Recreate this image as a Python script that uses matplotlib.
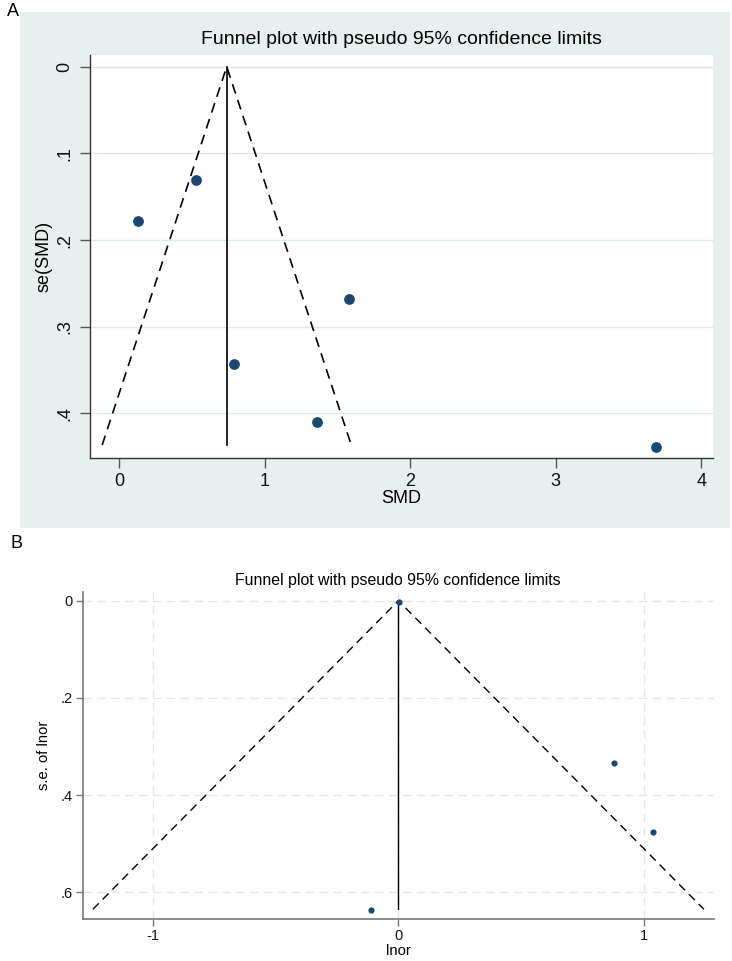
import matplotlib
matplotlib.use("Agg")
import matplotlib.pyplot as plt
from matplotlib.patches import Rectangle
from matplotlib.ticker import FuncFormatter

plt.rcParams['font.family'] = ['Liberation Sans', 'DejaVu Sans']

# panel A: standardised mean differences
smd = [0.13, 0.53, 1.58, 0.79, 1.36, 3.69]
se_smd = [0.178, 0.131, 0.268, 0.343, 0.410, 0.439]
pooled_smd = 0.74
se_max_a = 0.4365
ticks_a_x = [0, 1, 2, 3, 4]
ticks_a_y = [0, 0.1, 0.2, 0.3, 0.4]

# panel B: log odds ratios
lnor = [0.002, 0.88, 1.036, -0.111]
se_lnor = [0.003, 0.334, 0.475, 0.636]
pooled_lnor = 0.0
se_max_b = 0.635
ticks_b_x = [-1, 0, 1]
ticks_b_y = [0, 0.2, 0.4, 0.6]

navy = '#1A476F'
title = 'Funnel plot with pseudo 95% confidence limits'


def stata_fmt(v, pos):
    if abs(v) < 1e-9:
        return '0'
    if float(v).is_integer():
        return f'{int(v)}'
    return f'{v:.1f}'.replace('0.', '.')


W, H = 732, 961
fig = plt.figure(figsize=(W / 100, H / 100), dpi=100)

# grey graph region behind panel A
bg = fig.add_axes([20 / W, 1 - 528 / H, 710 / W, 516 / H], zorder=-5)
bg.add_patch(Rectangle((0, 0), 1, 1, transform=bg.transAxes,
                       facecolor='#E8EFEF', edgecolor='none'))
bg.axis('off')

axA = fig.add_axes([90 / W, 1 - 458 / H, 623 / W, 403 / H])
axA.set_facecolor('white')
for y in ticks_a_y:
    axA.axhline(y, color='#DCE9EC', lw=1, zorder=1)
xa = [pooled_smd - 1.96 * se_max_a, pooled_smd, pooled_smd + 1.96 * se_max_a]
ya = [se_max_a, 0, se_max_a]
axA.plot(xa, ya, color='black', lw=1.2, ls=(0, (6, 4)), zorder=2)
axA.plot([pooled_smd, pooled_smd], [0, se_max_a], color='black', lw=1.2, zorder=2)
axA.scatter(smd, se_smd, s=60, color=navy, zorder=3, linewidths=0)
axA.set_xlim(-0.199, 4.08)
axA.set_ylim(0.4514, -0.0135)
axA.set_xticks(ticks_a_x)
axA.set_yticks(ticks_a_y)
axA.xaxis.set_major_formatter(FuncFormatter(stata_fmt))
axA.yaxis.set_major_formatter(FuncFormatter(stata_fmt))
for lab in axA.get_yticklabels():
    lab.set_rotation(90)
    lab.set_va('center')
axA.tick_params(axis='both', length=7, width=1, color='#555555', labelsize=13,
                pad=4, labelcolor='#111111')
axA.tick_params(axis='y', pad=5)
for s in ['top', 'right']:
    axA.spines[s].set_visible(False)
for s in ['left', 'bottom']:
    axA.spines[s].set_color('#333333')
    axA.spines[s].set_linewidth(1)
axA.set_xlabel('SMD', fontsize=13, labelpad=0)
axA.set_ylabel('se(SMD)', fontsize=13, labelpad=3)
fig.text(401 / W, 1 - 40 / H, title, ha='center', va='center', fontsize=14)
fig.text(7 / W, 1 - 11 / H, 'A', ha='left', va='center', fontsize=13)

axB = fig.add_axes([82.7 / W, 1 - 919 / H, 631.6 / W, 327.3 / H])
xb = [pooled_lnor - 1.96 * se_max_b, pooled_lnor, pooled_lnor + 1.96 * se_max_b]
yb = [se_max_b, 0, se_max_b]
axB.plot(xb, yb, color='black', lw=1, ls=(0, (6, 4)), zorder=2)
axB.plot([pooled_lnor, pooled_lnor], [0, se_max_b], color='black', lw=1, zorder=2)
axB.scatter(lnor, se_lnor, s=20, color=navy, zorder=3, linewidths=0)
axB.set_xlim(-1.286, 1.287)
axB.set_ylim(0.655, -0.0185)
axB.set_xticks(ticks_b_x)
axB.set_yticks(ticks_b_y)
axB.xaxis.set_major_formatter(FuncFormatter(stata_fmt))
axB.yaxis.set_major_formatter(FuncFormatter(stata_fmt))
axB.grid(True, color='#E6E6E6', lw=1, ls=(0, (6, 4)), zorder=0)
axB.set_axisbelow(True)
axB.tick_params(axis='both', length=5, width=1, color='#777777', labelsize=10.5,
                pad=2, labelcolor='#111111')
for s in ['top', 'right']:
    axB.spines[s].set_visible(False)
for s in ['left', 'bottom']:
    axB.spines[s].set_color('#777777')
    axB.spines[s].set_linewidth(1.2)
axB.set_ylabel('s.e. of lnor', fontsize=10.6, labelpad=7)
fig.text(398 / W, 1 - 951 / H, 'lnor', ha='center', va='center', fontsize=10.6)
fig.text(398 / W, 1 - 581 / H, title, ha='center', va='center', fontsize=11.4)
fig.text(10 / W, 1 - 543 / H, 'B', ha='left', va='center', fontsize=13)

fig.savefig('out.png', dpi=100)
